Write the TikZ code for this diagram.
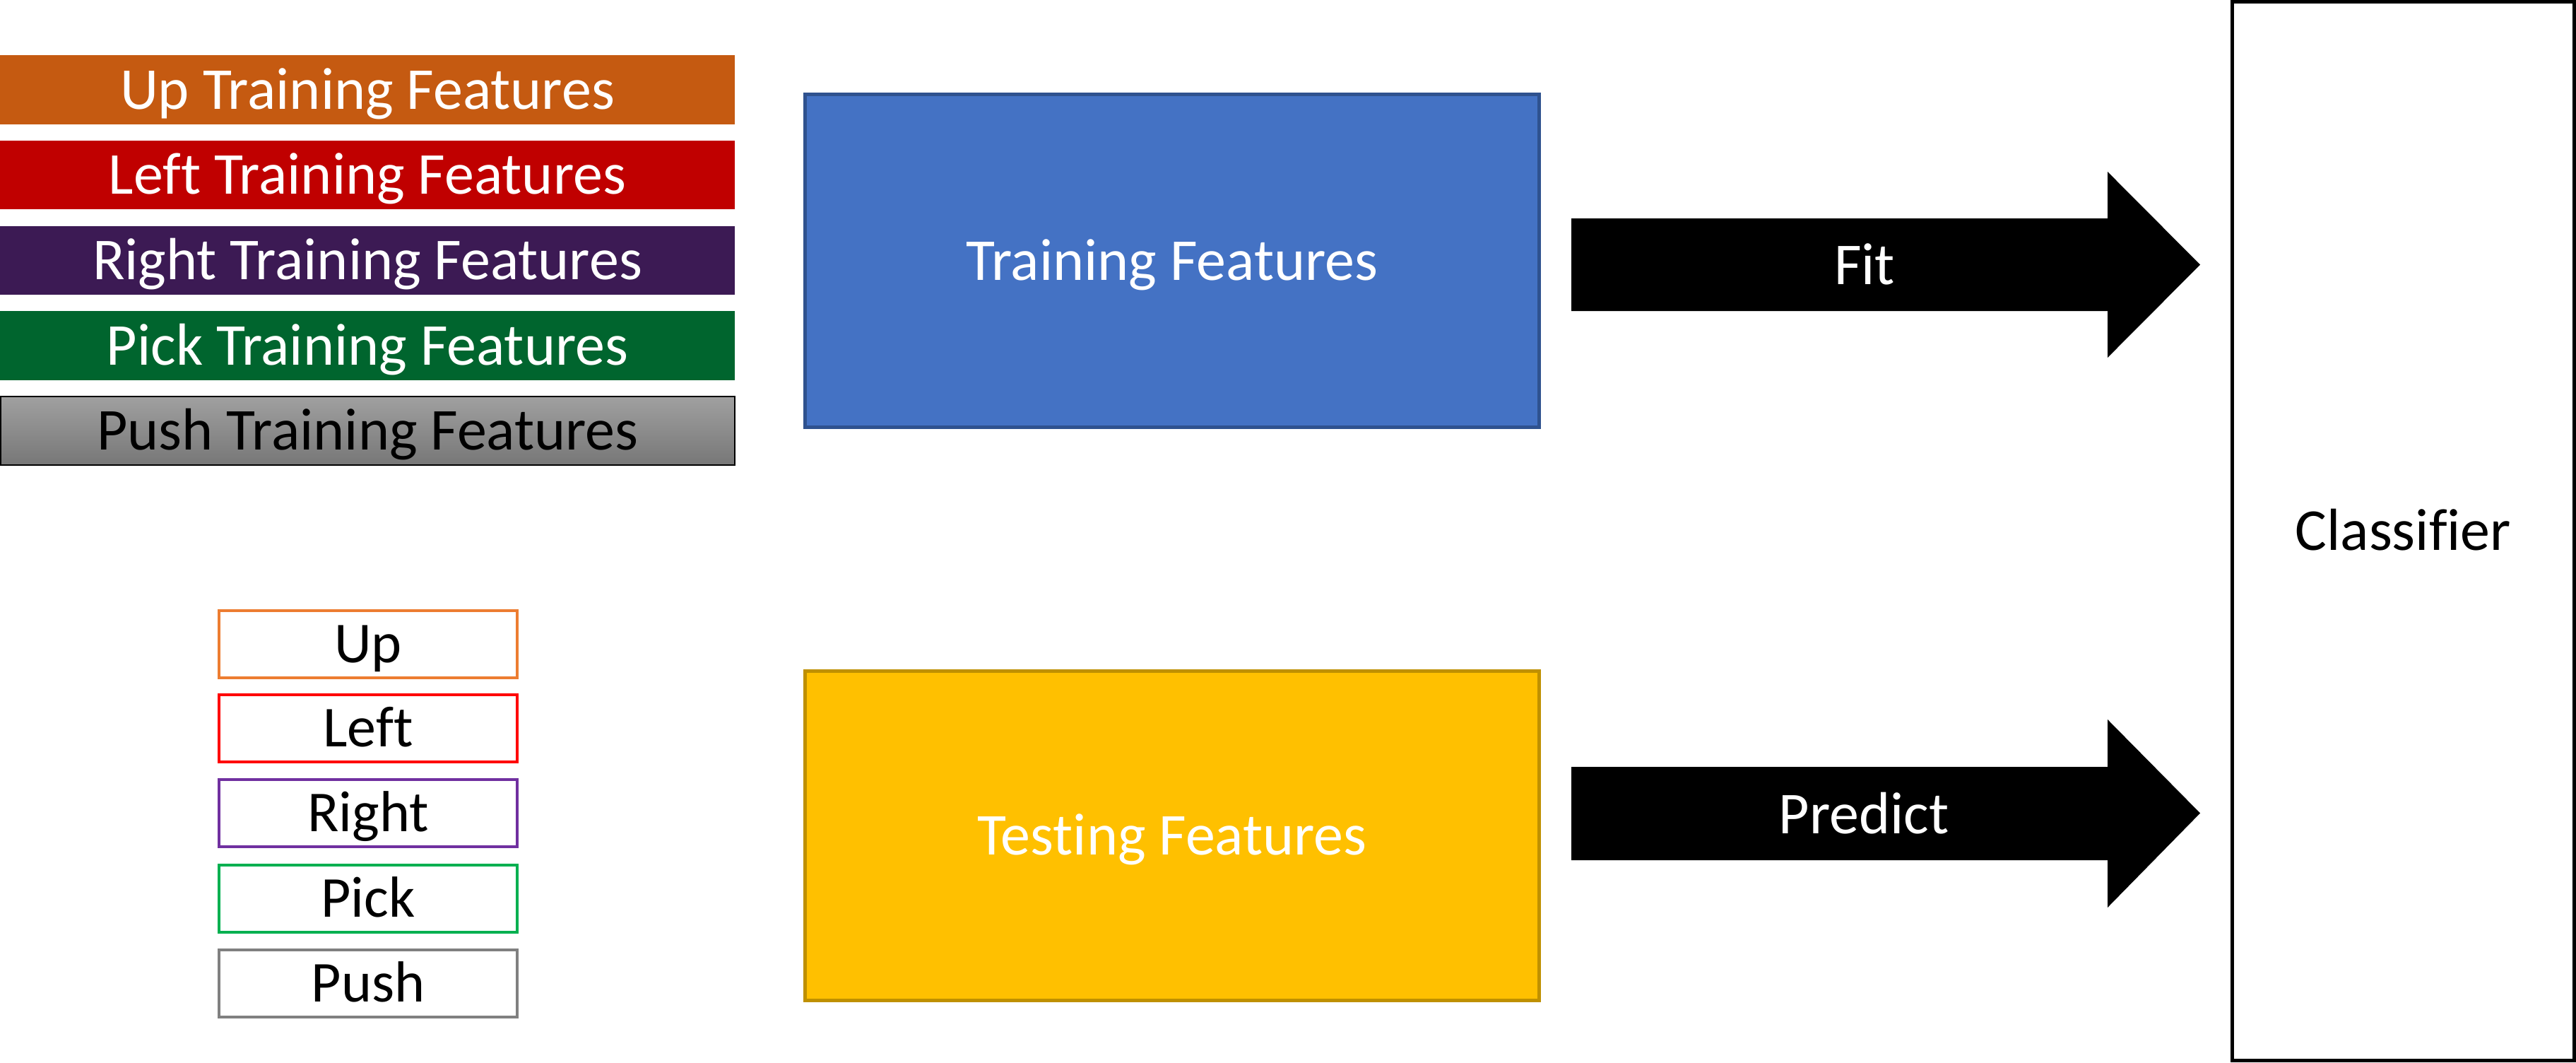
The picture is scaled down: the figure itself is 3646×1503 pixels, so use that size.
\documentclass[tikz,border=0pt]{standalone}
\usepackage{fontspec}
\setmainfont{Carlito}[RawFeature={-liga}]
\definecolor{upbar}{HTML}{C55A11}
\definecolor{leftbar}{HTML}{C00000}
\definecolor{rightbar}{HTML}{3C1A54}
\definecolor{pickbar}{HTML}{00652E}
\definecolor{pushtop}{HTML}{A0A0A0}
\definecolor{pushbot}{HTML}{777777}
\definecolor{trainfill}{HTML}{4472C4}
\definecolor{traindraw}{HTML}{2F528F}
\definecolor{testfill}{HTML}{FFC000}
\definecolor{testdraw}{HTML}{BF9000}
\definecolor{upline}{HTML}{ED7D31}
\definecolor{leftline}{HTML}{FF0000}
\definecolor{rightline}{HTML}{7030A0}
\definecolor{pickline}{HTML}{00B050}
\definecolor{pushline}{HTML}{808080}
\begin{document}
\begin{tikzpicture}[x=0.01cm,y=-0.01cm,
  bigfont/.style={font=\fontsize{23.9pt}{28pt}\selectfont, text height=15.4pt, text depth=0pt},
  legfont/.style={font=\fontsize{23.3pt}{28pt}\selectfont, text height=15pt, text depth=0pt},
  bar/.style={rectangle, inner sep=0pt, minimum width=10.40cm, text=white, bigfont},
  legbox/.style={rectangle, draw, line width=0.04cm, inner sep=0pt, minimum width=4.22cm, minimum height=0.95cm, text=black, legfont},
  bigbox/.style={rectangle, draw, line width=0.05cm, inner sep=0pt, minimum width=10.39cm, text=white, bigfont},
  blockarrow/.style={fill=black},
  arrowlabel/.style={text=white, bigfont, inner sep=0pt}
]
\useasboundingbox (0,0) rectangle (3646,1503);

% training feature bars
\node[bar, fill=upbar, minimum height=0.98cm] (upbar) at (520,127) {Up Training Features};
\node[bar, fill=leftbar, minimum height=0.97cm] (leftbar) at (520,247.5) {Left Training Features};
\node[bar, fill=rightbar, minimum height=0.97cm] (rightbar) at (520,368.5) {Right Training Features};
\node[bar, fill=pickbar, minimum height=0.98cm] (pickbar) at (520,489) {Pick Training Features};
\node[bar, draw=black, line width=0.02cm, top color=pushtop, bottom color=pushbot, minimum width=10.39cm, minimum height=0.97cm, text=black] (pushbar) at (520.5,609.5) {Push Training Features};

% legend
\node[legbox, draw=upline] (lup) at (521,911.5) {Up};
\node[legbox, draw=leftline] (lleft) at (521,1030.5) {Left};
\node[legbox, draw=rightline] (lright) at (521,1150.5) {Right};
\node[legbox, draw=pickline] (lpick) at (521,1271.5) {Pick};
\node[legbox, draw=pushline] (lpush) at (521,1391.5) {Push};

% main boxes
\node[bigbox, fill=trainfill, draw=traindraw, minimum height=4.71cm] (train) at (1659,369) {Training Features};
\node[bigbox, fill=testfill, draw=testdraw, minimum height=4.66cm] (test) at (1659,1182.5) {Testing Features};
\node[rectangle, draw=black, line width=0.05cm, inner sep=0pt, minimum width=4.84cm, minimum height=14.98cm, bigfont] (clf) at (3401.5,751.5) {Classifier};

% block arrows
\coordinate (fitS) at (2224,374.5);
\coordinate (fitE) at (3114,374.5);
\fill[blockarrow] (fitS) ++(0,-65.5) -- ++(759,0) -- ++(0,-66) -- (fitE) -- ++(-131,131.5) -- ++(0,-66) -- ++(-759,0) -- cycle;
\node[arrowlabel] (fit) at (2639,375) {Fit};

\coordinate (predS) at (2224,1150.5);
\coordinate (predE) at (3114,1150.5);
\fill[blockarrow] (predS) ++(0,-65.5) -- ++(759,0) -- ++(0,-67) -- (predE) -- ++(-131,133.5) -- ++(0,-67) -- ++(-759,0) -- cycle;
\node[arrowlabel] (pred) at (2638,1152) {Predict};
\end{tikzpicture}
\end{document}
